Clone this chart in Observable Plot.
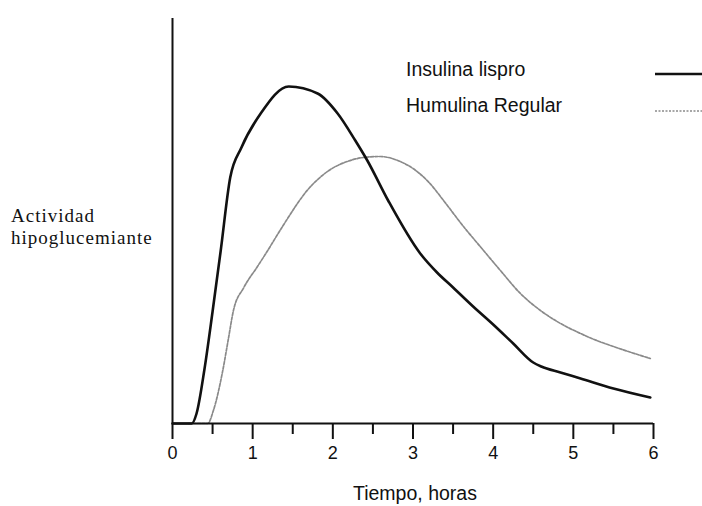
<!DOCTYPE html>
<html>
<head>
<meta charset="utf-8">
<script src="https://cdn.jsdelivr.net/npm/d3@7"></script>
<script src="https://cdn.jsdelivr.net/npm/@observablehq/plot@0.6"></script>
<style>
  html, body { margin: 0; padding: 0; background: #fff; }
  #wrap { position: relative; width: 702px; height: 506px; overflow: hidden; }
  .lbl { position: absolute; white-space: nowrap; color: #111; line-height: 1; }
  .sans { font-family: "Liberation Sans", Arial, sans-serif; }
  .serif { font-family: "Liberation Serif", "DejaVu Serif", serif; }
</style>
</head>
<body>
<div id="wrap"></div>
<script>
// ---- data ----
const tiempoLispro = [0, 0.24, 0.3, 0.4, 0.5, 0.6, 0.72, 0.86, 1.10, 1.45, 1.81, 2.06, 2.28, 2.43, 2.69, 3.09, 3.3, 3.5, 3.75, 4.0, 4.25, 4.5, 4.6, 4.84, 5.09, 5.5, 5.96];
const actividadLispro = [0, 0, 10, 55, 112, 172, 246, 276, 310, 337, 330, 310, 283, 263, 223, 170, 151, 136, 117, 99, 80, 61, 57, 51, 45, 35, 26];
const tiempoHumulina = [0.2, 0.44, 0.51, 0.62, 0.70, 0.76, 0.89, 1.06, 1.18, 1.38, 1.69, 1.97, 2.18, 2.38, 2.59, 2.81, 3.0, 3.2, 3.4, 3.6, 3.88, 4.09, 4.34, 4.59, 4.84, 5.09, 5.26, 5.5, 5.96];
const actividadHumulina = [0, 0, 13, 50, 86, 113, 136, 157, 172, 198, 234, 254, 262, 266, 267, 263, 255, 241, 221, 200, 173, 153, 130, 113, 100, 90, 84, 77, 65];
const ticksEnteros = [0, 1, 2, 3, 4, 5, 6];
const ticksMedios = [0.5, 1.5, 2.5, 3.5, 4.5, 5.5];
const series = ["Insulina lispro", "Humulina Regular"];
const etiquetaX = "Tiempo, horas";
const etiquetaY = ["Actividad", "hipoglucemiante"];

const lispro = tiempoLispro.map((t, i) => ({t, a: actividadLispro[i]}));
const humulina = tiempoHumulina.map((t, i) => ({t, a: actividadHumulina[i]}));

const chart = Plot.plot({
  width: 702,
  height: 506,
  marginLeft: 172,
  marginRight: 49,
  marginTop: 18,
  marginBottom: 83,
  x: {domain: [0, 6]},
  y: {domain: [0, 405], axis: null},
  style: {fontFamily: "Liberation Sans, Arial, sans-serif", fontSize: "18px", color: "#111"},
  marks: [
    Plot.axisX({ticks: ticksEnteros, tickSize: 16, tickPadding: 7, tickFormat: d => String(d), label: null, strokeWidth: 2, fontSize: 18}),
    Plot.axisX({ticks: ticksMedios, tickSize: 11, tickFormat: () => "", label: null, strokeWidth: 2}),
    Plot.line(humulina, {x: "t", y: "a", stroke: "#8a8a8a", strokeWidth: 1.7, strokeDasharray: "3,1.5", curve: "monotone-x"}),
    Plot.line(lispro, {x: "t", y: "a", stroke: "#111", strokeWidth: 2.6, curve: "monotone-x"}),
    Plot.ruleY([0], {stroke: "#111", strokeWidth: 2}),
    Plot.ruleX([0], {stroke: "#111", strokeWidth: 2})
  ]
});
const wrap = document.getElementById("wrap");
wrap.appendChild(chart);

function addLabel(text, cls, left, top, size, extra) {
  const d = document.createElement("div");
  d.className = "lbl " + cls;
  d.textContent = text;
  d.style.left = left + "px";
  d.style.top = top + "px";
  d.style.fontSize = size + "px";
  if (extra) Object.assign(d.style, extra);
  wrap.appendChild(d);
  return d;
}
// legend
addLabel(series[0], "sans", 406, 60, 19.5);
addLabel(series[1], "sans", 406, 96, 19.5);
const ns = "http://www.w3.org/2000/svg";
const leg = document.createElementNS(ns, "svg");
leg.setAttribute("width", 702); leg.setAttribute("height", 506);
leg.style.position = "absolute"; leg.style.left = "0"; leg.style.top = "0"; leg.style.pointerEvents = "none";
const l1 = document.createElementNS(ns, "line");
l1.setAttribute("x1", 655); l1.setAttribute("x2", 702); l1.setAttribute("y1", 74); l1.setAttribute("y2", 74);
l1.setAttribute("stroke", "#111"); l1.setAttribute("stroke-width", 2.4);
const l2 = document.createElementNS(ns, "line");
l2.setAttribute("x1", 655); l2.setAttribute("x2", 702); l2.setAttribute("y1", 111); l2.setAttribute("y2", 111);
l2.setAttribute("stroke", "#8a8a8a"); l2.setAttribute("stroke-width", 1.4); l2.setAttribute("stroke-dasharray", "2,1.5");
leg.appendChild(l1); leg.appendChild(l2);
wrap.appendChild(leg);
// axis titles
addLabel(etiquetaX, "sans", 353, 484, 19.5);
addLabel(etiquetaY[0], "serif", 11, 206, 19, {letterSpacing: "1px"});
addLabel(etiquetaY[1], "serif", 11, 228, 19, {letterSpacing: "1px"});
</script>
</body>
</html>
